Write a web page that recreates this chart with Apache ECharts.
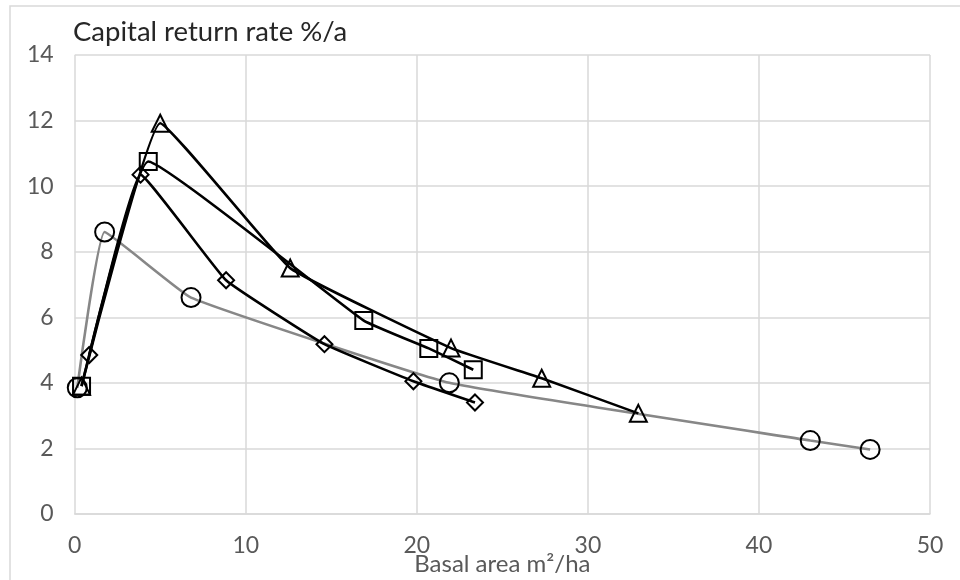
<!DOCTYPE html>
<html>
<head>
<meta charset="utf-8">
<script src="https://cdn.jsdelivr.net/npm/echarts@6/dist/echarts.min.js"></script>
<style>
html,body{margin:0;padding:0;background:#fff;}
#c{width:960px;height:580px;}
</style>
</head>
<body>
<div id="c"></div>
<script>
// Data
var titleText = 'Capital return rate %/a';
var xName = 'Basal area m\u00B2/ha';
var xTicks = [0, 10, 20, 30, 40, 50];
var yTicks = [0, 2, 4, 6, 8, 10, 12, 14];

var circleX = [0.15, 1.75, 6.8, 21.9, 43.0, 46.5];
var circleY = [3.85, 8.6, 6.6, 4.0, 2.24, 1.97];

var diamondX = [0.85, 3.85, 8.85, 14.6, 19.8, 23.4];
var diamondY = [4.85, 10.35, 7.13, 5.18, 4.05, 3.4];

var squareX = [0.4, 4.3, 16.9, 20.7, 23.3];
var squareY = [3.9, 10.75, 5.9, 5.05, 4.4];

var triangleX = [0.4, 5.0, 12.6, 22.0, 27.3, 32.95];
var triangleY = [3.9, 11.92, 7.5, 5.06, 4.14, 3.07];

function pairs(xs, ys) {
  return xs.map(function (x, i) { return [x, ys[i]]; });
}

var FONT = 'Lato';
var chart = echarts.init(document.getElementById('c'), null, {renderer: 'canvas'});

function mk(name, xs, ys, symbol, size, lineColor) {
  return {
    name: name,
    type: 'line',
    data: pairs(xs, ys),
    smooth: 0.1,
    symbol: symbol,
    symbolSize: size,
    showAllSymbol: true,
    lineStyle: {color: lineColor, width: 2.6},
    itemStyle: {color: 'rgba(255,255,255,0)', borderColor: '#000', borderWidth: 2},
    emphasis: {disabled: true}
  };
}

chart.setOption({
  animation: false,
  backgroundColor: '#fff',
  graphic: [{
    type: 'rect',
    shape: {x: 10, y: 6, width: 1000, height: 700},
    style: {fill: 'none', stroke: '#d9d9d9', lineWidth: 1.5},
    silent: true
  }],
  title: {
    text: titleText,
    left: 73,
    top: 18,
    padding: 0,
    textStyle: {fontFamily: FONT, fontSize: 27.5, fontWeight: 'normal', color: '#262626'}
  },
  grid: {left: 74.7, right: 30, top: 55, bottom: 66, containLabel: false, outerBoundsMode: 'none'},
  xAxis: {
    type: 'value',
    min: xTicks[0], max: xTicks[xTicks.length - 1], interval: 10,
    name: xName,
    nameLocation: 'middle',
    nameGap: 38,
    nameMoveOverlap: false,
    nameTextStyle: {fontFamily: FONT, fontSize: 24, color: '#595959'},
    axisLine: {show: true, lineStyle: {color: '#d9d9d9', width: 1.5}},
    axisTick: {show: false},
    axisLabel: {fontFamily: FONT, fontSize: 23, color: '#595959', margin: 20},
    splitLine: {show: true, lineStyle: {color: '#d9d9d9', width: 1.5}}
  },
  yAxis: {
    type: 'value',
    min: yTicks[0], max: yTicks[yTicks.length - 1], interval: 2,
    axisLine: {show: false},
    axisTick: {show: false},
    axisLabel: {fontFamily: FONT, fontSize: 23, color: '#595959', margin: 21},
    splitLine: {show: true, lineStyle: {color: '#d9d9d9', width: 1.5}}
  },
  series: [
    mk('circle', circleX, circleY, 'circle', 19, '#878787'),
    mk('diamond', diamondX, diamondY, 'diamond', 16, '#000'),
    mk('square', squareX, squareY, 'rect', 17, '#000'),
    mk('triangle', triangleX, triangleY, 'triangle', 17, '#000')
  ]
});
</script>
</body>
</html>
